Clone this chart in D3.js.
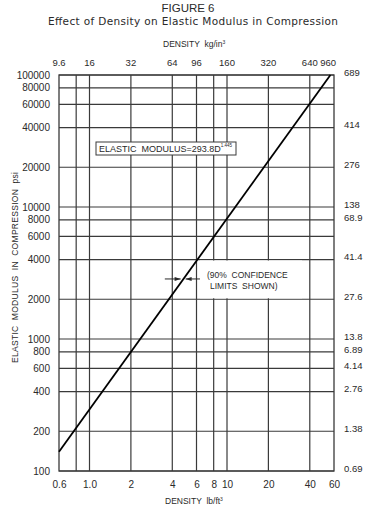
<!DOCTYPE html>
<html>
<head>
<meta charset="utf-8">
<script src="https://cdn.jsdelivr.net/npm/d3@7"></script>
<style>
  html, body { margin: 0; padding: 0; background: #fff; }
  svg { display: block; font-family: "Liberation Sans", Arial, sans-serif; }
  svg text { white-space: pre; }
</style>
</head>
<body>
<script>
'use strict';

// density, lb/ft3 (bottom axis)
let densityTicks = [0.6, 1.0, 2, 4, 6, 8, 10, 20, 40, 60];
let densityLabels = ['0.6', '1.0', '2', '4', '6', '8', '10', '20', '40', '60'];
let densityGrid = [0.8, 1, 2, 4, 6, 8, 10, 20, 40];

// density, kg (top axis)
let kgTicks = [0.6, 1, 2, 4, 6, 10, 20, 40, 60];
let kgLabels = ['9.6', '16', '32', '64', '96', '160', '320', '640', '960'];

// modulus, psi (left axis)
let modulusTicks = [100000, 80000, 60000, 40000, 20000, 10000, 8000, 6000, 4000, 2000, 1000, 800, 600, 400, 200, 100];

// right axis labels, as printed next to the psi lines
let rightTicks = [100000, 40000, 20000, 10000, 8000, 4000, 2000, 1000, 800, 600, 400, 200, 100];
let rightLabels = ['689', '414', '276', '138', '68.9', '41.4', '27.6', '13.8', '6.89', '4.14', '2.76', '1.38', '0.69'];

// fitted line E = 293.8 D^1.445, end points
let fitDensity = [0.6, 56.5];
let fitModulus = [140, 100000];

let width = 375;
let height = 513;
let pLeft = 59, pRight = 334, pTop = 75, pBottom = 471;
let ink = '#2a2a2a';
let gridInk = '#3a3a3a';

let x = d3.scaleLog().domain([0.6, 60]).range([pLeft, pRight]);
let y = d3.scaleLog().domain([100, 100000]).range([pBottom, pTop]);

let svg = d3.select('body').append('svg')
    .attr('width', width)
    .attr('height', height);

// titles
svg.append('text')
    .attr('x', 188).attr('y', 12)
    .attr('text-anchor', 'middle')
    .style('font-size', '11.5px').style('fill', ink)
    .text('FIGURE 6');

svg.append('text')
    .attr('x', 48).attr('y', 25)
    .attr('textLength', 290).attr('lengthAdjust', 'spacing')
    .style('font-family', '"DejaVu Sans", sans-serif')
    .style('font-size', '10.5px').style('fill', ink)
    .text('Effect of Density on Elastic Modulus in Compression');

let topTitle = svg.append('text')
    .attr('x', 163).attr('y', 47)
    .style('font-size', '8.5px').style('fill', ink);
topTitle.append('tspan').text('DENSITY  kg/in');
topTitle.append('tspan').attr('dy', -3).style('font-size', '5px').text('3');

// grid
let grid = svg.append('g')
    .attr('stroke', gridInk)
    .attr('stroke-width', 1.2);

grid.selectAll('.vgrid')
  .data(densityGrid)
  .enter().append('line')
    .attr('x1', function(d) { return x(d); })
    .attr('x2', function(d) { return x(d); })
    .attr('y1', pTop)
    .attr('y2', pBottom);

grid.selectAll('.hgrid')
  .data(modulusTicks)
  .enter().append('line')
    .attr('y1', function(d) { return y(d); })
    .attr('y2', function(d) { return y(d); })
    .attr('x1', pLeft)
    .attr('x2', pRight);

// white area behind the confidence note
svg.append('rect')
    .attr('x', 200).attr('y', y(4000) + 1)
    .attr('width', 102).attr('height', y(2000) - y(4000) - 2)
    .attr('fill', '#fff');

// frame
svg.append('rect')
    .attr('x', pLeft).attr('y', pTop)
    .attr('width', pRight - pLeft).attr('height', pBottom - pTop)
    .attr('fill', 'none')
    .attr('stroke', gridInk)
    .attr('stroke-width', 1.3);

// left axis
svg.append('g')
    .attr('transform', 'translate(' + pLeft + ',0)')
    .call(d3.axisLeft(y).tickValues(modulusTicks).tickSize(0).tickPadding(9)
      .tickFormat(d3.format('d')))
    .call(function(g) { g.select('.domain').remove(); })
    .selectAll('text')
      .style('font-size', '10px').style('fill', ink).style('font-family', 'inherit');

// right axis
svg.append('g')
    .selectAll('text')
    .data(rightTicks)
    .enter().append('text')
      .attr('x', pRight + 10)
      .attr('y', function(d) { return y(d); })
      .attr('dy', '0.1em')
      .style('font-size', '9.5px').style('fill', ink)
      .text(function(d, i) { return rightLabels[i]; });

// bottom axis
svg.append('g')
    .attr('transform', 'translate(0,' + pBottom + ')')
    .call(d3.axisBottom(x).tickValues(densityTicks).tickSize(0).tickPadding(10)
      .tickFormat(function(d, i) { return densityLabels[i]; }))
    .call(function(g) { g.select('.domain').remove(); })
    .selectAll('text')
      .style('font-size', '10px').style('fill', ink).style('font-family', 'inherit');

// top axis
svg.append('g')
    .selectAll('text')
    .data(kgTicks)
    .enter().append('text')
      .attr('x', function(d, i) { return i === kgTicks.length - 1 ? x(d) + 2 : x(d); })
      .attr('y', pTop - 9)
      .attr('text-anchor', function(d, i) { return i === kgTicks.length - 1 ? 'end' : 'middle'; })
      .style('font-size', '9.5px').style('fill', ink)
      .text(function(d, i) { return kgLabels[i]; });

// axis titles
let bottomTitle = svg.append('text')
    .attr('x', 165).attr('y', 504)
    .style('font-size', '8.5px').style('fill', ink);
bottomTitle.append('tspan').text('DENSITY  lb/ft');
bottomTitle.append('tspan').attr('dy', -3).style('font-size', '5px').text('3');

svg.append('text')
    .attr('transform', 'translate(18,363) rotate(-90)')
    .attr('textLength', 191).attr('lengthAdjust', 'spacing')
    .style('font-size', '8.5px').style('fill', ink)
    .text('ELASTIC  MODULUS  IN  COMPRESSION  psi');

// fitted line
let fit = fitDensity.map(function(d, i) { return [d, fitModulus[i]]; });
svg.append('path')
    .datum(fit)
    .attr('fill', 'none')
    .attr('stroke', '#000')
    .attr('stroke-width', 1.8)
    .attr('d', d3.line()
      .x(function(d) { return x(d[0]); })
      .y(function(d) { return y(d[1]); }));

// equation box
let eq = svg.append('g');
eq.append('rect')
    .attr('x', 96).attr('y', 142)
    .attr('width', 140).attr('height', 13)
    .attr('fill', '#fff')
    .attr('stroke', gridInk)
    .attr('stroke-width', 1);
let eqText = eq.append('text')
    .attr('x', 99).attr('y', 152)
    .style('font-size', '9px').style('fill', ink);
eqText.append('tspan').text('ELASTIC  MODULUS=293.8D');
eqText.append('tspan').attr('dy', -5).style('font-size', '4.5px').text('1.445');

// confidence note
let note = svg.append('g').style('font-size', '8.5px').style('fill', ink);
note.append('text').attr('x', 207).attr('y', 278).text('(90%  CONFIDENCE');
note.append('text').attr('x', 210).attr('y', 288.5).text('LIMITS  SHOWN)');

let ay = y(2850);
let arrows = [[3.53, 4.6], [6.36, 5.0]];
let arrowG = svg.append('g').attr('stroke', ink).attr('fill', ink);
arrows.forEach(function(a) {
  let x0 = x(a[0]);
  let x1 = x(a[1]);
  let s = x1 > x0 ? 1 : -1;
  arrowG.append('line')
      .attr('x1', x0).attr('x2', x1)
      .attr('y1', ay).attr('y2', ay)
      .attr('stroke-width', 1);
  arrowG.append('path')
      .attr('stroke', 'none')
      .attr('d', 'M' + x1 + ',' + ay + 'L' + (x1 - s * 6) + ',' + (ay - 2) + 'L' + (x1 - s * 6) + ',' + (ay + 2) + 'Z');
});
</script>
</body>
</html>
